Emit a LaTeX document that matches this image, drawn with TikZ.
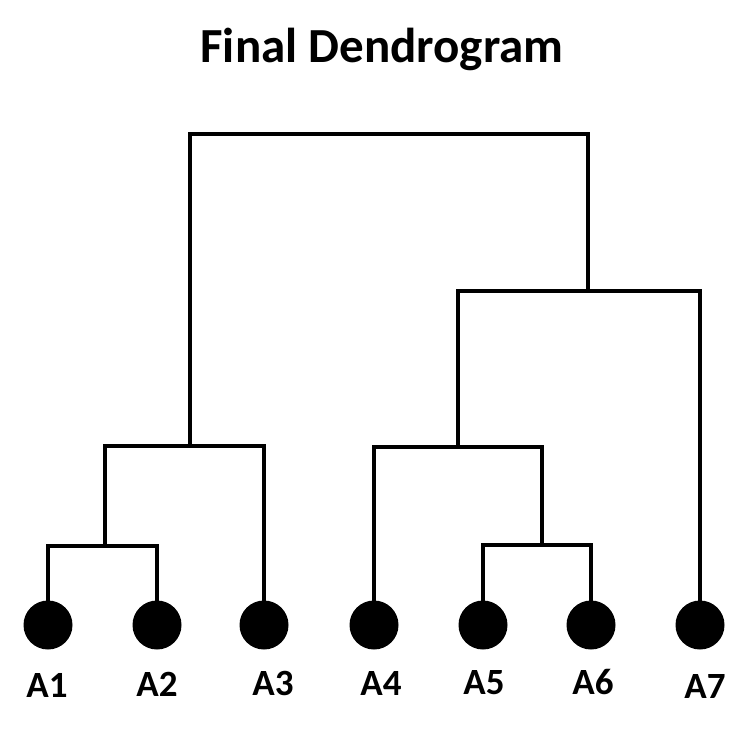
\documentclass[tikz,border=0pt]{standalone}
\usepackage{fontspec}
\setmainfont{Carlito}
\begin{document}
\begin{tikzpicture}[x=1pt,y=-1pt,
  link/.style={line width=4pt,line join=miter},
  leaf/.style={circle,fill=black,inner sep=0pt,minimum size=49pt},
  lab/.style={font=\bfseries\fontsize{37}{40}\selectfont,inner sep=0pt,anchor=base},
  ttl/.style={font=\bfseries\fontsize{49}{52}\selectfont,inner sep=0pt,anchor=base}]
\useasboundingbox[fill=white] (0,0) rectangle (754,730);
\node[ttl] (title) at (382,63) {Final Dendrogram};
% leaves
\node[leaf] (l1) at (48,625) {};
\node[leaf] (l2) at (157,625) {};
\node[leaf] (l3) at (264,625) {};
\node[leaf] (l4) at (374,625) {};
\node[leaf] (l5) at (483,625) {};
\node[leaf] (l6) at (591,625) {};
\node[leaf] (l7) at (700,625) {};
% labels
\node[lab] (t1) at (47,697) {A1};
\node[lab] (t2) at (157,696) {A2};
\node[lab] (t3) at (273,695) {A3};
\node[lab] (t4) at (381,695) {A4};
\node[lab] (t5) at (484,694) {A5};
\node[lab] (t6) at (593,694) {A6};
\node[lab] (t7) at (705,698) {A7};
% merge points
\coordinate (c12) at (105,546);
\coordinate (c123) at (190,446);
\coordinate (c56) at (542,545);
\coordinate (c456) at (458,447);
\coordinate (c4567) at (588,291);
\coordinate (root) at (389,134);
% links
\draw[link] (l1.center) |- (c12) -| (l2.center);
\draw[link] (c12) |- (c123) -| (l3.center);
\draw[link] (l5.center) |- (c56) -| (l6.center);
\draw[link] (l4.center) |- (c456) -| (c56);
\draw[link] (c456) |- (c4567) -| (l7.center);
\draw[link] (c123) |- (root) -| (c4567);
\end{tikzpicture}
\end{document}
